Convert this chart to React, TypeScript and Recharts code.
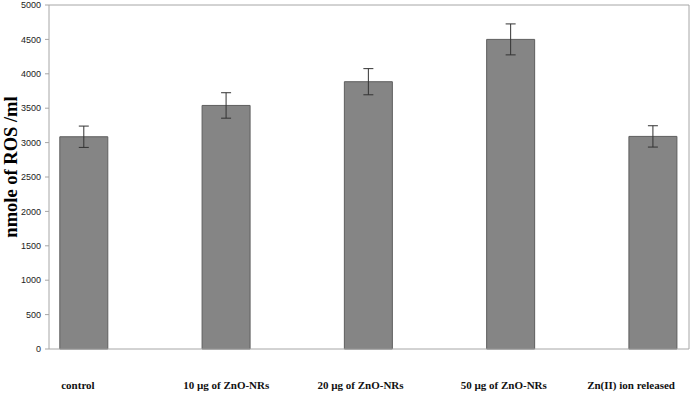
import { Bar, BarChart, ErrorBar, ReferenceLine, XAxis, YAxis } from "recharts"

const categories = [
  "control",
  "10 µg of ZnO-NRs",
  "20 µg of ZnO-NRs",
  "50 µg of ZnO-NRs",
  "Zn(II) ion released",
]
const rosValues = [3085, 3540, 3885, 4500, 3090]
const rosErrors = [155, 185, 190, 225, 155]
const yTicks = [0, 500, 1000, 1500, 2000, 2500, 3000, 3500, 4000, 4500, 5000]

const data = categories.map((name, i) => ({
  idx: i,
  name,
  ros: rosValues[i],
  err: rosErrors[i],
}))

const X_MIN = -0.2456
const X_MAX = 4.2526
// labels in the original sit a little left of their bars
const labelShift = [-6, 0, -8, -7, -22]

function CategoryTick(props: any) {
  const { x, payload } = props
  return (
    <text
      x={x + (labelShift[payload.value] ?? 0)}
      y={389}
      textAnchor="middle"
      fontFamily="'Liberation Serif', 'Times New Roman', serif"
      fontWeight="bold"
      fontSize={11}
      fill="#111"
    >
      {categories[payload.value]}
    </text>
  )
}

function AxisTitle() {
  return (
    <text
      x={11}
      y={167}
      transform="rotate(-90 11 167)"
      textAnchor="middle"
      dominantBaseline="central"
      fontFamily="'Liberation Serif', 'Times New Roman', serif"
      fontWeight="bold"
      fontSize={18.5}
      fill="#000"
    >
      nmole of ROS /ml
    </text>
  )
}

export default function App() {
  return (
    <div style={{ position: "absolute", left: 0, top: 0, background: "#fff" }}>
      <BarChart
        width={692}
        height={394}
        data={data}
        margin={{ top: 5, right: 3, bottom: 0, left: 0 }}
      >
        <XAxis
          dataKey="idx"
          type="number"
          domain={[X_MIN, X_MAX]}
          allowDataOverflow
          ticks={[0, 1, 2, 3, 4]}
          tickLine={false}
          axisLine={{ stroke: "#a6a6a6" }}
          height={45}
          tick={<CategoryTick />}
        />
        <YAxis
          width={49}
          domain={[0, 5000]}
          ticks={yTicks}
          tickSize={4}
          tickMargin={4}
          axisLine={{ stroke: "#a6a6a6" }}
          tickLine={{ stroke: "#a6a6a6" }}
          tick={{ fontSize: 9, fill: "#222", fontFamily: "'Liberation Sans', Arial, sans-serif" }}
          label={<AxisTitle />}
        />
        <ReferenceLine y={5000} stroke="#a6a6a6" />
        <ReferenceLine x={X_MAX} stroke="#a6a6a6" />
        <Bar
          dataKey="ros"
          barSize={48}
          fill="#858585"
          stroke="#5e5e5e"
          strokeWidth={1}
          isAnimationActive={false}
        >
          <ErrorBar dataKey="err" width={5} stroke="#333" strokeWidth={1} />
        </Bar>
      </BarChart>
    </div>
  )
}
